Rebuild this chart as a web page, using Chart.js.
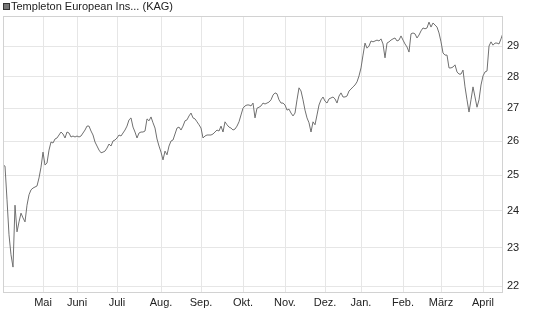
<!DOCTYPE html>
<html>
<head>
<meta charset="utf-8">
<script src="https://cdn.jsdelivr.net/npm/chart.js@4/dist/chart.umd.min.js"></script>
<style>
  html, body { margin: 0; padding: 0; background: #fff; }
  #wrap { width: 545px; height: 327px; }
</style>
</head>
<body>
<div id="wrap"><canvas id="priceChart"></canvas></div>
<script>
// ===== Data =====
const seriesName = "Templeton European Ins... (KAG)";
const monthLabels = ["Mai", "Juni", "Juli", "Aug.", "Sep.", "Okt.", "Nov.", "Dez.", "Jan.", "Feb.", "März", "April"];
const monthIdx = [20, 37, 57, 79, 99, 120, 141, 161, 179, 200, 219, 240];
const yTicks = [22, 23, 24, 25, 26, 27, 28, 29];

// one value per trading day
const fundValues = [
  25.29, 25.26, 24.30, 23.34, 22.81, 22.49, 24.15, 23.42, 23.69, 23.93,
  23.80, 23.69, 24.15, 24.44, 24.58, 24.63, 24.66, 24.69, 24.92, 25.23,
  25.67, 25.29, 25.35, 25.73, 25.97, 25.94, 26.06, 26.09, 26.18, 26.27,
  26.21, 26.09, 26.27, 26.24, 26.12, 26.15, 26.12, 26.15, 26.12, 26.15,
  26.24, 26.33, 26.45, 26.45, 26.30, 26.18, 25.97, 25.85, 25.73, 25.65,
  25.67, 25.70, 25.79, 25.91, 25.85, 26.00, 26.03, 26.09, 26.18, 26.15,
  26.24, 26.33, 26.45, 26.64, 26.70, 26.42, 26.27, 26.09, 26.24, 26.27,
  26.27, 26.30, 26.67, 26.61, 26.73, 26.55, 26.39, 26.06, 25.85, 25.67,
  25.44, 25.70, 25.59, 25.85, 26.00, 26.03, 26.21, 26.39, 26.42, 26.33,
  26.45, 26.61, 26.64, 26.76, 26.85, 26.70, 26.67, 26.58, 26.49, 26.39,
  26.09, 26.15, 26.18, 26.18, 26.18, 26.21, 26.27, 26.33, 26.30, 26.45,
  26.27, 26.58, 26.49, 26.42, 26.39, 26.33, 26.36, 26.45, 26.58, 26.79,
  27.00, 27.07, 27.10, 27.10, 27.07, 27.16, 26.70, 27.00, 27.03, 27.07,
  27.16, 27.13, 27.16, 27.19, 27.26, 27.41, 27.48, 27.45, 27.26, 27.16,
  27.16, 27.10, 26.94, 26.97, 26.85, 26.76, 26.85, 27.26, 27.64, 27.54,
  27.26, 26.94, 26.70, 26.55, 26.27, 26.58, 26.49, 26.79, 27.10, 27.26,
  27.35, 27.22, 27.16, 27.29, 27.32, 27.35, 27.29, 27.16, 27.38, 27.48,
  27.35, 27.35, 27.38, 27.54, 27.60, 27.67, 27.73, 27.83, 28.02, 28.28,
  28.70, 29.10, 28.93, 29.00, 29.17, 29.14, 29.17, 29.20, 29.17, 29.24,
  29.07, 28.61, 29.10, 29.14, 29.20, 29.24, 29.27, 29.17, 29.20, 29.34,
  29.20, 29.07, 28.97, 28.80, 29.41, 29.44, 29.41, 29.27, 29.37, 29.51,
  29.61, 29.58, 29.61, 29.81, 29.64, 29.78, 29.71, 29.64, 29.44, 29.14,
  28.77, 28.70, 28.70, 28.28, 28.28, 28.31, 28.38, 28.15, 28.08, 28.08,
  28.21, 27.67, 27.26, 26.88, 27.26, 27.67, 27.35, 27.03, 27.26, 27.73,
  28.02, 28.15, 28.18, 29.00, 29.14, 29.03, 29.10, 29.10, 29.07, 29.24,
  29.44
];

// ===== Plugins =====
const frameAndLegend = {
  id: "frameAndLegend",
  afterDraw(chart) {
    const { ctx, chartArea: a } = chart;
    ctx.save();
    ctx.strokeStyle = "#d2d2d2";
    ctx.lineWidth = 1;
    ctx.strokeRect(Math.round(a.left) + 0.5, Math.round(a.top) + 0.5,
      Math.round(a.right - a.left) - 1, Math.round(a.bottom - a.top) - 1);
    // legend entry
    ctx.fillStyle = "#777";
    ctx.fillRect(3, 3, 7, 7);
    ctx.strokeStyle = "#333";
    ctx.strokeRect(3.5, 3.5, 6, 6);
    ctx.fillStyle = "#222";
    ctx.font = "11px 'Liberation Sans', Arial, sans-serif";
    ctx.textBaseline = "middle";
    ctx.fillText(seriesName, 11, 7);
    ctx.restore();
  }
};

// ===== Chart =====
Chart.defaults.font.family = "'Liberation Sans', Arial, sans-serif";
Chart.defaults.font.size = 11;
Chart.defaults.color = "#222";

new Chart(document.getElementById("priceChart"), {
  type: "line",
  data: {
    datasets: [{
      label: seriesName,
      data: fundValues.map((v, i) => ({ x: i, y: v })),
      borderColor: "#707070",
      borderWidth: 1,
      pointRadius: 0,
      tension: 0,
      fill: false
    }]
  },
  options: {
    responsive: true,
    maintainAspectRatio: false,
    animation: false,
    layout: { padding: { left: 3, top: 16, right: 0, bottom: 0 } },
    plugins: {
      legend: { display: false },
      tooltip: { enabled: false }
    },
    scales: {
      x: {
        type: "linear",
        min: 0,
        max: fundValues.length - 1,
        afterBuildTicks: (scale) => { scale.ticks = monthIdx.map(v => ({ value: v })); },
        afterFit: (scale) => { scale.height = 34; },
        grid: { color: "#e6e6e6", drawTicks: false },
        border: { display: false },
        ticks: {
          autoSkip: false,
          maxRotation: 0,
          padding: 3,
          callback: (val) => monthLabels[monthIdx.indexOf(val)]
        }
      },
      y: {
        type: "logarithmic",
        position: "right",
        min: 21.83,
        max: 30.02,
        afterBuildTicks: (scale) => { scale.ticks = yTicks.map(v => ({ value: v })); },
        afterFit: (scale) => { scale.width = 42; },
        grid: { color: "#e6e6e6", drawTicks: false },
        border: { display: false },
        ticks: {
          padding: 4,
          callback: (val) => String(val)
        }
      }
    }
  },
  plugins: [frameAndLegend]
});
</script>
</body>
</html>
